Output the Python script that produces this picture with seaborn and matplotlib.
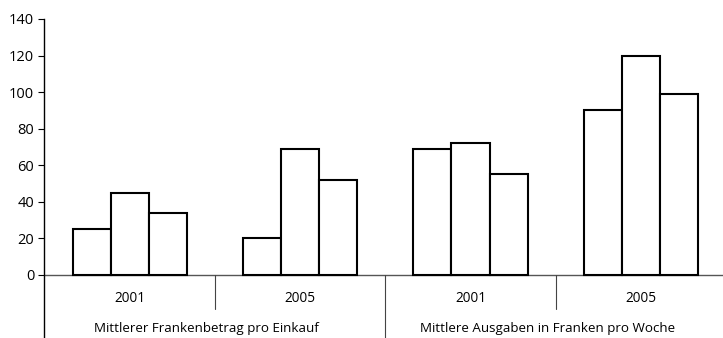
import pandas as pd
import numpy as np
import seaborn as sns
import matplotlib.pyplot as plt

# values
groups = ['g1', 'g2', 'g3', 'g4']
years = ['2001', '2005', '2001', '2005']
series = ['a', 'b', 'c']
vals_a = [25, 20, 69, 90]
vals_b = [45, 69, 72, 120]
vals_c = [34, 52, 55, 99]
sections = ['Mittlerer Frankenbetrag pro Einkauf', 'Mittlere Ausgaben in Franken pro Woche']

df = pd.DataFrame({
    'group': groups * 3,
    'series': ['a'] * 4 + ['b'] * 4 + ['c'] * 4,
    'value': vals_a + vals_b + vals_c,
})

sns.set_style('ticks')
plt.rcParams['font.family'] = ['Open Sans', 'DejaVu Sans']
plt.rcParams['text.color'] = 'black'
plt.rcParams['ytick.color'] = 'black'
plt.rcParams['ytick.labelcolor'] = 'black'

fig = plt.figure(figsize=(7.23, 3.38), dpi=100)
ax = fig.add_axes([44 / 723, 0, 1 - 44 / 723, (338 - 19) / 338])

sns.barplot(data=df, x='group', y='value', hue='series', order=groups, hue_order=series,
            palette=['white'] * 3, edgecolor='black', linewidth=1.5, width=0.67,
            legend=False, ax=ax, zorder=3)

ax.set_xlim(-0.503, 3.482)
ax.set_ylim(-34.5, 140)
ax.set_yticks(np.arange(0, 141, 20))
ax.tick_params(axis='y', length=4, width=0.8, labelsize=10.5, pad=3, colors='black')
ax.set_xticks([])
ax.set_xlabel('')
ax.set_ylabel('')
for s in ['top', 'right', 'bottom']:
    ax.spines[s].set_visible(False)
ax.spines['left'].set_linewidth(1.0)
ax.spines['left'].set_color('black')
ax.spines['left'].set_bounds(-34.5, 140)

ax.axhline(0, color='#555555', linewidth=1.0, zorder=2)

for i, yr in enumerate(years):
    ax.text(i, -13.1, yr, ha='center', va='center', fontsize=9.8)
ax.text(0.45, -29.5, sections[0], ha='center', va='center', fontsize=9.6)
ax.text(2.45, -29.5, sections[1], ha='center', va='center', fontsize=9.6)

ax.plot([0.5, 0.5], [0, -18.6], color='#444444', linewidth=0.8, clip_on=False)
ax.plot([2.5, 2.5], [0, -18.6], color='#444444', linewidth=0.8, clip_on=False)
ax.plot([1.5, 1.5], [0, -34.5], color='#444444', linewidth=0.8, clip_on=False)

fig.savefig('out.png', dpi=100)
